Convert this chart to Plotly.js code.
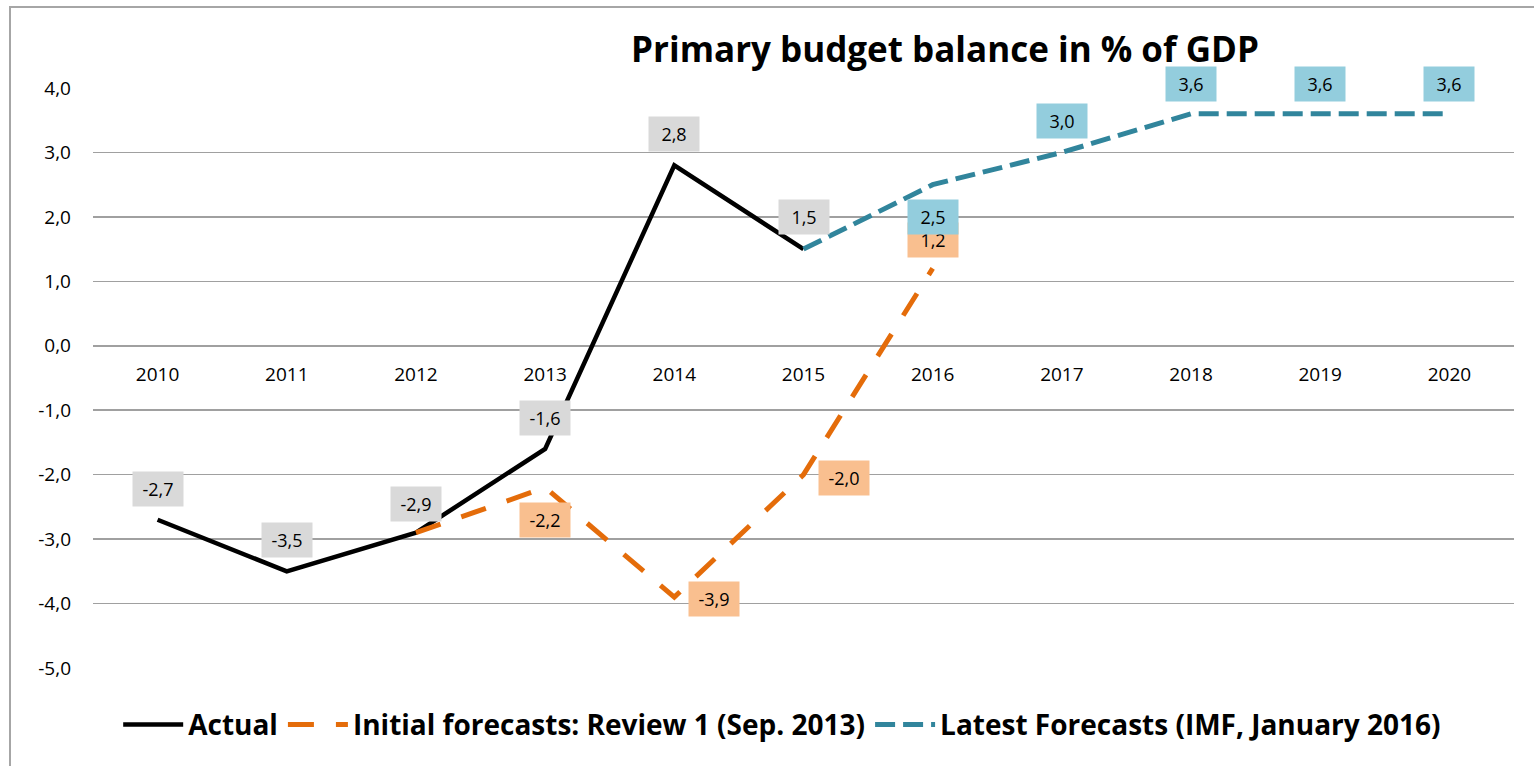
<!DOCTYPE html>
<html>
<head>
<meta charset="utf-8">
<script src="https://cdn.plot.ly/plotly-3.0.1.min.js"></script>
<style>
html,body{margin:0;padding:0;background:#fff;}
#wrap{position:relative;width:1534px;height:766px;overflow:hidden;}
#chart{width:1534px;height:766px;}
#frame{position:absolute;left:9px;top:6px;width:1600px;height:900px;border:2px solid #a6a6a6;pointer-events:none;box-sizing:border-box;}
</style>
</head>
<body>
<div id="wrap"><div id="chart"></div><div id="frame"></div></div>
<script>
const years = ['2010','2011','2012','2013','2014','2015','2016','2017','2018','2019','2020'];

const actualYears = ['2010','2011','2012','2013','2014','2015'];
const actualValues = [-2.7, -3.5, -2.9, -1.6, 2.8, 1.5];

const initialYears = ['2012','2013','2014','2015','2016'];
const initialValues = [-2.9, -2.2, -3.9, -2.0, 1.2];

const latestYears = ['2015','2016','2017','2018','2019','2020'];
const latestValues = [1.5, 2.5, 3.0, 3.6, 3.6, 3.6];

const seriesNames = ['Actual', 'Initial forecasts: Review 1 (Sep. 2013)', 'Latest Forecasts (IMF, January 2016)'];
const yTicks = [-5, -4, -3, -2, -1, 0, 1, 2, 3, 4];

const FONT = '"Open Sans", "Liberation Sans", sans-serif';
const fmt = v => v.toFixed(1).replace('.', ',');

const actualOff = [[0,31],[0,31],[0,29],[0,31],[0,31],[0,32]];
const initialOff = [null,[0,-32],[40,-2],[40,-3],[0,28]];
const latestOff = [null,[0,-32],[0,31],[0,30],[0,30],[0,30]];

const annotations = [];
function addLabels(xs, ys, offs, bg) {
  xs.forEach((x, i) => {
    if (!offs[i]) return;
    annotations.push({
      x: years.indexOf(x), y: ys[i], xref: 'x', yref: 'y',
      text: fmt(ys[i]), showarrow: false,
      xshift: offs[i][0], yshift: offs[i][1],
      bgcolor: bg, width: 46, height: 30, borderpad: 2,
      font: {family: FONT, size: 18, color: '#000'}
    });
  });
}
addLabels(actualYears, actualValues, actualOff, '#d9d9d9');
addLabels(initialYears, initialValues, initialOff, '#f9bf8f');
addLabels(latestYears, latestValues, latestOff, '#93cddd');

const traces = [
  {x: actualYears, y: actualValues, name: seriesNames[0], type: 'scatter', mode: 'lines',
   line: {color: '#000000', width: 4.5}},
  {x: initialYears, y: initialValues, name: seriesNames[1], type: 'scatter', mode: 'lines',
   line: {color: '#e46c0a', width: 5, dash: '26px,22px'}},
  {x: latestYears, y: latestValues, name: seriesNames[2], type: 'scatter', mode: 'lines',
   line: {color: '#31859c', width: 5, dash: '20px,8px'}}
];

const layout = {
  width: 1534, height: 766,
  margin: {l: 93, r: 20, t: 88, b: 98},
  paper_bgcolor: '#ffffff', plot_bgcolor: '#ffffff',
  separators: ',.',
  font: {family: FONT, color: '#000'},
  title: {
    text: '<b>Primary budget balance in % of GDP</b>',
    x: 945/1534, xanchor: 'center', xref: 'container',
    y: 1 - 50/766, yanchor: 'middle', yref: 'container',
    font: {family: FONT, size: 35, color: '#000'}
  },
  xaxis: {
    type: 'category', categoryorder: 'array', categoryarray: years,
    range: [-0.5, years.length - 0.5],
    anchor: 'free', position: 5/9,
    showgrid: false, zeroline: false, showline: false,
    ticks: '', ticklabelstandoff: 15,
    tickfont: {family: FONT, size: 19, color: '#000'}
  },
  yaxis: {
    range: [-5, 4], tickvals: yTicks, ticktext: yTicks.map(fmt),
    showgrid: true, gridcolor: '#a0a0a0', gridwidth: 1.5,
    zeroline: true, zerolinecolor: '#a0a0a0', zerolinewidth: 1.5,
    showline: false, ticks: '', ticklabelstandoff: 21,
    tickfont: {family: FONT, size: 19, color: '#000'}
  },
  showlegend: true,
  legend: {
    orientation: 'h', x: 0.485, xanchor: 'center', y: -0.098, yanchor: 'middle',
    font: {family: FONT, size: 28, color: '#000', weight: 'bold'},
    bgcolor: 'rgba(0,0,0,0)', itemwidth: 60, tracegroupgap: 0
  },
  annotations: annotations
};

Plotly.newPlot('chart', traces, layout, {displayModeBar: false, staticPlot: true});
</script>
</body>
</html>
